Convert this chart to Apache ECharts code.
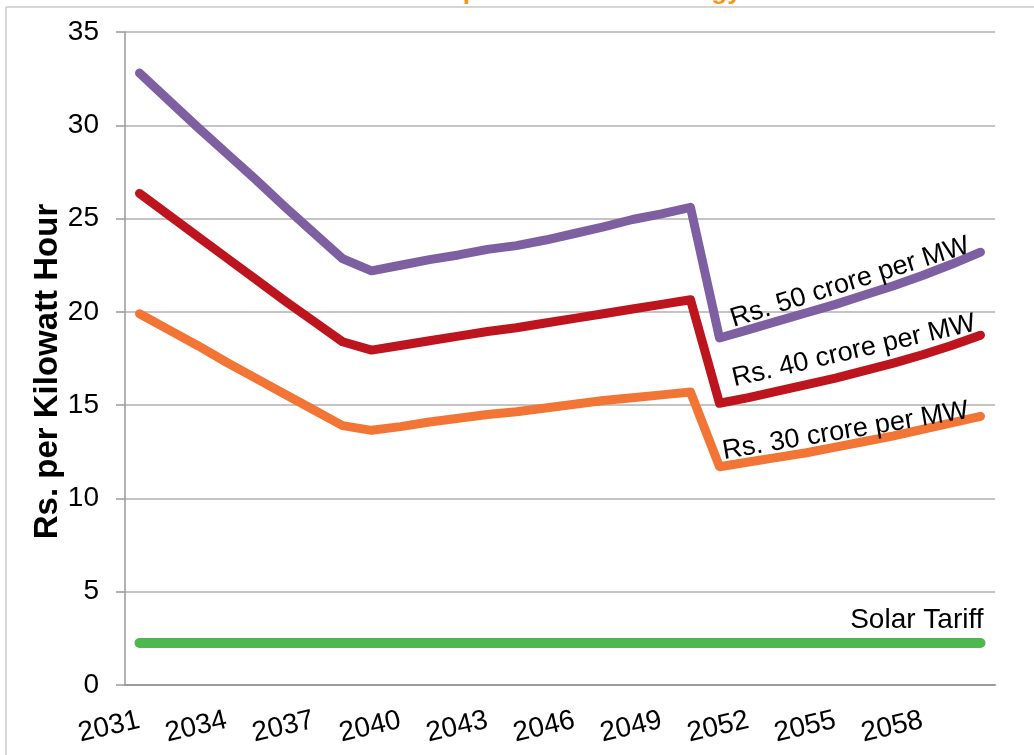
<!DOCTYPE html>
<html>
<head>
<meta charset="utf-8">
<script src="https://cdn.jsdelivr.net/npm/echarts@6/dist/echarts.min.js"></script>
<style>
html, body { margin: 0; padding: 0; background: #fff; }
#main { width: 1034px; height: 755px; }
</style>
</head>
<body>
<div id="main"></div>
<script>
var years = [];
for (var y = 2031; y <= 2060; y++) years.push(String(y));

var cost50 = [32.8, 31.35, 29.9, 28.5, 27.1, 25.65, 24.25, 22.85,
    22.2, 22.5, 22.8, 23.05, 23.35, 23.55, 23.85, 24.2, 24.55, 24.95, 25.25, 25.6,
    18.6, 19.05, 19.5, 19.95, 20.4, 20.9, 21.4, 21.95, 22.55, 23.2];
var cost40 = [26.35, 25.2, 24.05, 22.9, 21.75, 20.6, 19.5, 18.4,
    17.95, 18.2, 18.45, 18.7, 18.95, 19.15, 19.4, 19.65, 19.9, 20.15, 20.4, 20.65,
    15.1, 15.4, 15.75, 16.1, 16.45, 16.85, 17.25, 17.7, 18.2, 18.75];
var cost30 = [19.9, 19.05, 18.2, 17.3, 16.45, 15.6, 14.75, 13.9,
    13.65, 13.85, 14.1, 14.3, 14.5, 14.65, 14.85, 15.05, 15.25, 15.4, 15.55, 15.7,
    11.7, 11.95, 12.2, 12.45, 12.75, 13.05, 13.35, 13.7, 14.05, 14.4];
var solar = [];
for (var i = 0; i < years.length; i++) solar.push(2.25);

var seriesNames = ['Rs. 50 crore per MW', 'Rs. 40 crore per MW', 'Rs. 30 crore per MW', 'Solar Tariff'];

var FONT = 'Arial';
var myChart = echarts.init(document.getElementById('main'));

// put a text label on one point of a series
function withLabel(arr, idx, label) {
    return arr.map(function (v, i) {
        if (i !== idx) return v;
        return { value: v, label: label };
    });
}

function lineLabel(name, rot, off) {
    return {
        show: true,
        formatter: name,
        position: 'top',
        distance: 0,
        rotate: rot,
        offset: off,
        fontFamily: FONT,
        fontSize: 27,
        color: '#000'
    };
}

function line(name, data, color, w) {
    return {
        name: name,
        type: 'line',
        data: data,
        symbol: 'circle',
        symbolSize: 0,
        showSymbol: true,
        silent: true,
        lineStyle: { color: color, width: w, cap: 'round', join: 'round' },
        itemStyle: { color: color }
    };
}

var option = {
    animation: false,
    backgroundColor: '#fff',
    grid: { left: 125, right: 39, top: 32, bottom: 70 },
    graphic: [
        { type: 'line', shape: { x1: 6, y1: 7, x2: 1034, y2: 7 }, style: { stroke: '#c8c8c8', lineWidth: 1.5 } },
        { type: 'line', shape: { x1: 6, y1: 7, x2: 6, y2: 755 }, style: { stroke: '#c8c8c8', lineWidth: 1.5 } },
        {
            type: 'text', left: 210, top: -21,
            style: {
                text: 'Levelised Cost of Imported Nuclear Energy Tariff',
                fill: '#F7941D', font: 'bold 26px Arial'
            }
        }
    ],
    xAxis: {
        type: 'category',
        data: years,
        boundaryGap: true,
        axisLine: { lineStyle: { color: '#9a9a9a', width: 2 } },
        axisTick: { interval: 0, length: 9, lineStyle: { color: '#9a9a9a', width: 1.5 } },
        axisLabel: {
            interval: 2,
            rotate: 13,
            margin: 35,
            color: '#000',
            fontSize: 28,
            fontFamily: FONT
        },
        splitLine: { show: false }
    },
    yAxis: {
        type: 'value',
        min: 0,
        max: 35,
        interval: 5,
        name: 'Rs. per Kilowatt Hour',
        nameLocation: 'middle',
        nameGap: 61,
        nameMoveOverlap: false,
        nameTextStyle: {
            color: '#000', fontSize: 33, fontWeight: 'bold', fontFamily: FONT,
            padding: [0, 26, 0, 0]
        },
        axisLine: { show: true, lineStyle: { color: '#9a9a9a', width: 1.5 } },
        axisTick: { show: true, length: 9, lineStyle: { color: '#9a9a9a', width: 1.5 } },
        axisLabel: { color: '#000', fontSize: 28, margin: 26, fontFamily: FONT },
        splitLine: { lineStyle: { color: '#c4c4c4', width: 2 } }
    },
    series: [
        line(seriesNames[0], withLabel(cost50, 25, lineLabel(seriesNames[0], 17.5, [-10, -3])), '#7E5FA2', 9),
        line(seriesNames[1], withLabel(cost40, 25, lineLabel(seriesNames[1], 13, [-6, -8])), '#BD141E', 9),
        line(seriesNames[2], withLabel(cost30, 25, lineLabel(seriesNames[2], 9.5, [-17, 0])), '#F27535', 9),
        line(seriesNames[3], withLabel(solar, 29, {
            show: true, formatter: seriesNames[3], position: 'top', align: 'right',
            offset: [3, -4], fontFamily: FONT, fontSize: 28, color: '#000'
        }), '#4DB84E', 10)
    ]
};

myChart.setOption(option);
</script>
</body>
</html>
